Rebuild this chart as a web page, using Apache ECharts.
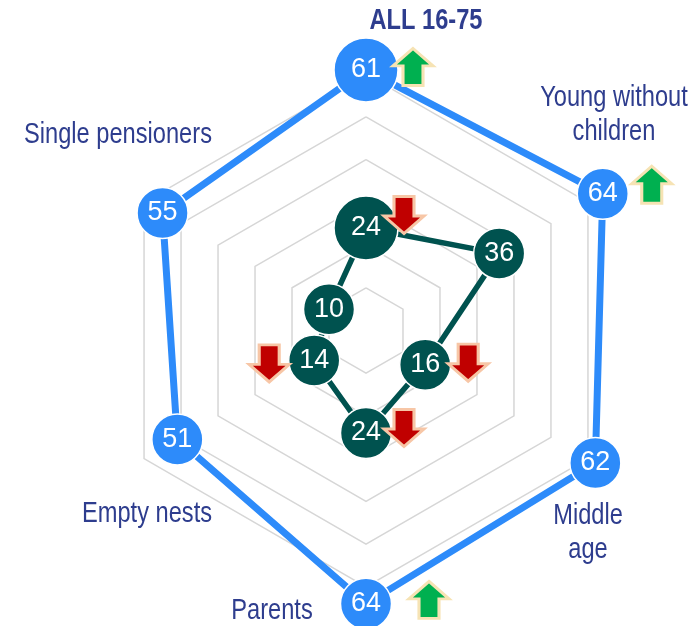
<!DOCTYPE html>
<html>
<head>
<meta charset="utf-8">
<script src="https://cdn.jsdelivr.net/npm/echarts@6/dist/echarts.min.js"></script>
<style>
  html, body { margin: 0; padding: 0; background: #fff; }
  #chart { width: 695px; height: 626px; }
</style>
</head>
<body>
<div id="chart"></div>
<script>
  // indicators, counter-clockwise from the top
  const categories = ['ALL 16-75', 'Single pensioners', 'Empty nests', 'Parents', 'Middle\nage', 'Young without\nchildren']
  const allValues = [61, 55, 51, 64, 62, 64]
  const segValues = [24, 10, 14, 24, 16, 36]
  // significant change markers
  const allTrend = ['up', null, null, 'up', null, 'up']
  const segTrend = ['down', null, 'down', 'down', 'down', null]

  const blue = '#2D8BFA'
  const green = '#00524F'
  const navy = '#2E3D8E'
  const font = "'Liberation Sans', Arial, sans-serif"
  const cx = 366, cy = 330.5, R = 299

  const upArrow = 'path://M20,0 L40,17 L30,17 L30,36 L10,36 L10,17 L0,17 Z'
  const downArrow = 'path://M10,0 L30,0 L30,19 L40,19 L20,36 L0,19 L10,19 Z'

  // where the label of each axis sits
  const namePos = [[426, 21], [118, 135], [147, 514], [272, 611], [588, 533], [614, 115]]
  const allArrowOffset = [[47, -3], null, null, [63, -4], null, [49, -9]]
  const segArrowOffset = [[38, -13], null, [-45, 3], [38, -5], [43, -2], null]

  const chart = echarts.init(document.getElementById('chart'))

  function points(values, color) {
    return {
      type: 'scatter',
      coordinateSystem: 'polar',
      z: 5,
      symbol: 'circle',
      symbolSize: (v, p) => p.dataIndex === 0 ? 64 : 51,
      itemStyle: { color: color, borderColor: '#fff', borderWidth: 1.5, opacity: 1 },
      label: {
        show: true, position: 'inside', color: '#fff',
        fontFamily: font, fontSize: 27,
        formatter: p => p.value[0]
      },
      data: values.map((v, i) => [v, i])
    }
  }

  function arrows(values, trend, offsets) {
    const data = []
    values.forEach((v, i) => {
      if (!trend[i]) return
      const up = trend[i] === 'up'
      data.push({
        value: [v, i],
        symbol: up ? upArrow : downArrow,
        symbolOffset: offsets[i],
        itemStyle: {
          color: up ? '#00B050' : '#C00000',
          borderColor: up ? '#F6E3B4' : '#F7C6A6',
          borderWidth: 3,
          opacity: 1
        }
      })
    })
    return {
      type: 'scatter',
      coordinateSystem: 'polar',
      z: 6,
      symbolSize: [40, 37],
      label: { show: false },
      data: data
    }
  }

  const gridColors = []
  for (let i = 0; i < 7; i++) gridColors.push('#D6D6D6')
  gridColors.push('rgba(0,0,0,0)')

  chart.setOption({
    animation: false,
    radar: {
      center: [cx, cy],
      radius: R,
      startAngle: 90,
      shape: 'polygon',
      splitNumber: 7,
      indicator: categories.map(n => ({ name: n, min: 0, max: 70 })),
      axisName: { show: false },
      axisLine: { show: false },
      axisTick: { show: false },
      axisLabel: { show: false },
      splitArea: { show: false },
      splitLine: { lineStyle: { color: gridColors, width: 1.5 } }
    },
    polar: { center: [cx, cy], radius: R },
    angleAxis: {
      type: 'category', data: categories, startAngle: 90, clockwise: false,
      boundaryGap: false, show: false
    },
    radiusAxis: { min: 0, max: 70, show: false },
    // axis names, squeezed to the narrow face of the original
    graphic: categories.map((n, i) => ({
      type: 'text',
      x: namePos[i][0],
      y: namePos[i][1],
      scaleX: 0.815,
      style: {
        text: n,
        fill: navy,
        font: (i === 0 ? 'bold ' : '') + '29px ' + font,
        lineHeight: 34,
        align: 'center',
        verticalAlign: 'middle',
        textAlign: 'center',
        textVerticalAlign: 'middle'
      }
    })),
    series: [
      {
        type: 'radar',
        symbol: 'none',
        data: [
          { value: allValues, lineStyle: { color: blue, width: 7 } },
          { value: segValues, lineStyle: { color: green, width: 5.5 } }
        ]
      },
      points(allValues, blue),
      points(segValues, green),
      arrows(allValues, allTrend, allArrowOffset),
      arrows(segValues, segTrend, segArrowOffset)
    ]
  })
</script>
</body>
</html>
